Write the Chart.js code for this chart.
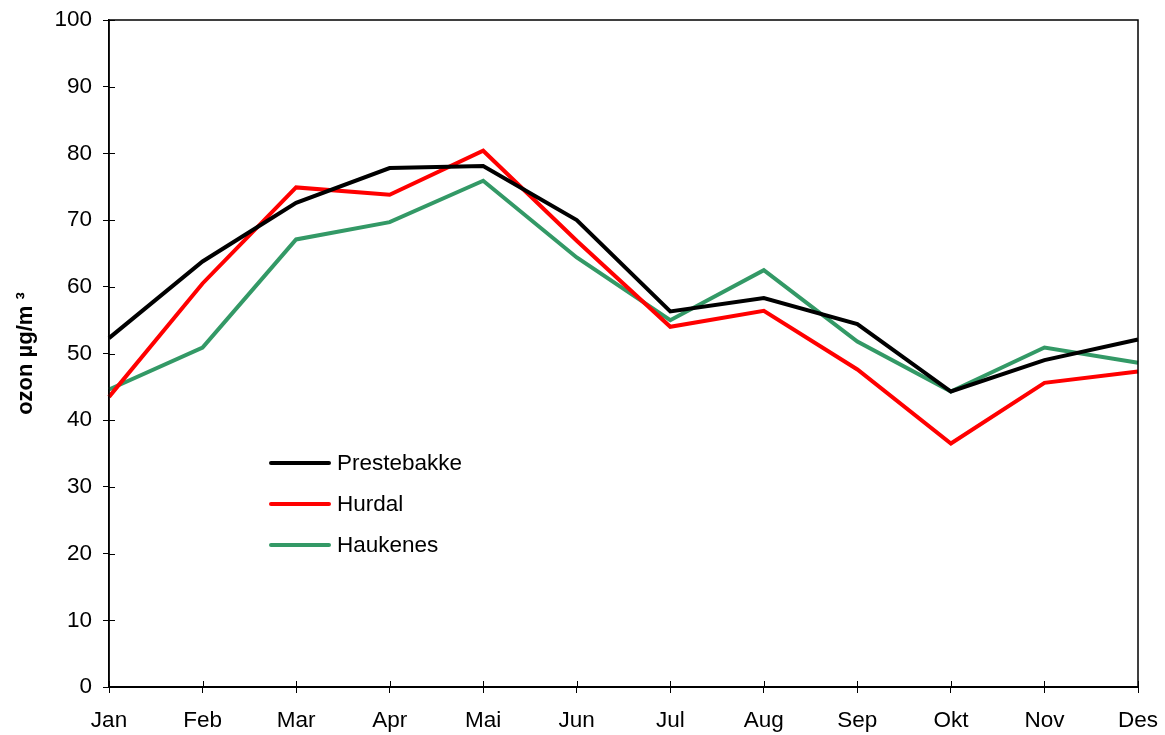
<!DOCTYPE html>
<html>
<head>
<meta charset="utf-8">
<script src="https://cdn.jsdelivr.net/npm/chart.js@4/dist/chart.umd.min.js"></script>
<style>
  html, body { margin: 0; padding: 0; background: #fff; }
  #wrap { width: 1165px; height: 735px; }
</style>
</head>
<body>
<div id="wrap"><canvas id="chart"></canvas></div>
<script>
const months = ['Jan', 'Feb', 'Mar', 'Apr', 'Mai', 'Jun', 'Jul', 'Aug', 'Sep', 'Okt', 'Nov', 'Des'];
const prestebakke = [52.3, 63.8, 72.6, 77.8, 78.1, 70.0, 56.3, 58.3, 54.4, 44.3, 49.0, 52.1];
const hurdal = [43.5, 60.5, 74.9, 73.8, 80.4, 66.9, 54.0, 56.4, 47.6, 36.5, 45.6, 47.3];
const haukenes = [44.6, 50.9, 67.1, 69.7, 75.9, 64.4, 55.0, 62.5, 51.8, 44.3, 50.9, 48.6];
const yTitle = 'ozon µg/m ³';

const font = 'Liberation Sans, Arial, sans-serif';

// box round the plot plus tick marks that cross the axes
const framePlugin = {
    id: 'frame',
    afterDraw(chart) {
        const { ctx, chartArea: a, scales } = chart;
        ctx.save();
        ctx.strokeStyle = '#000';
        ctx.lineWidth = 1.5;
        ctx.strokeRect(a.left, a.top, a.right - a.left, a.bottom - a.top);
        ctx.lineWidth = 2;
        ctx.beginPath();
        ctx.moveTo(a.left, a.bottom);
        ctx.lineTo(a.right, a.bottom);
        ctx.stroke();
        ctx.lineWidth = 1;
        ctx.beginPath();
        scales.y.ticks.forEach((t, i) => {
            const y = Math.round(scales.y.getPixelForTick(i)) + 0.5;
            ctx.moveTo(a.left, y);
            ctx.lineTo(a.left + 6, y);
        });
        scales.x.ticks.forEach((t, i) => {
            const x = Math.round(scales.x.getPixelForTick(i)) + 0.5;
            ctx.moveTo(x, a.bottom);
            ctx.lineTo(x, a.bottom - 6);
        });
        ctx.stroke();
        ctx.restore();
    }
};

// legend drawn inside the plot area
const innerLegend = {
    id: 'innerLegend',
    afterDraw(chart) {
        const { ctx } = chart;
        ctx.save();
        ctx.font = '22.5px ' + font;
        ctx.textBaseline = 'middle';
        chart.data.datasets.forEach((ds, i) => {
            const y = 463 + i * 41;
            ctx.strokeStyle = ds.borderColor;
            ctx.lineWidth = 4;
            ctx.lineCap = 'round';
            ctx.beginPath();
            ctx.moveTo(271, y);
            ctx.lineTo(329, y);
            ctx.stroke();
            ctx.fillStyle = '#000';
            ctx.fillText(ds.label, 337, y + 1);
        });
        ctx.restore();
    }
};

const mkSet = (label, data, color) => ({
    label: label,
    data: data,
    borderColor: color,
    backgroundColor: color,
    borderWidth: 4,
    pointRadius: 0,
    tension: 0,
    borderJoinStyle: 'miter'
});

new Chart(document.getElementById('chart'), {
    type: 'line',
    data: {
        labels: months,
        datasets: [
            mkSet('Prestebakke', prestebakke, '#000000'),
            mkSet('Hurdal', hurdal, '#ff0000'),
            mkSet('Haukenes', haukenes, '#339966')
        ]
    },
    options: {
        responsive: true,
        maintainAspectRatio: false,
        animation: false,
        layout: { padding: { left: 0, right: 27, top: 20, bottom: 0 } },
        plugins: {
            legend: { display: false },
            tooltip: { enabled: false }
        },
        scales: {
            x: {
                offset: false,
                grid: { drawOnChartArea: false, tickLength: 6, color: '#000' },
                border: { color: '#000', width: 2 },
                ticks: { color: '#000', font: { family: font, size: 22.5 }, padding: 14, maxRotation: 0, autoSkip: false },
                afterFit(scale) {
                    scale.height = 48;
                    scale.paddingLeft = 0;
                    scale.paddingRight = 0;
                }
            },
            y: {
                min: 0,
                max: 100,
                grid: { drawOnChartArea: false, tickLength: 6, color: '#000' },
                border: { color: '#000', width: 1.5 },
                ticks: { stepSize: 10, color: '#000', font: { family: font, size: 22.5 }, padding: 11 },
                title: {
                    display: true,
                    text: yTitle,
                    color: '#000',
                    font: { family: font, size: 22, weight: 'bold' },
                    padding: { top: 13, bottom: 0 }
                },
                afterFit(scale) {
                    scale.width = 109;
                    scale.paddingTop = 0;
                    scale.paddingBottom = 0;
                }
            }
        }
    },
    plugins: [framePlugin, innerLegend]
});
</script>
</body>
</html>
